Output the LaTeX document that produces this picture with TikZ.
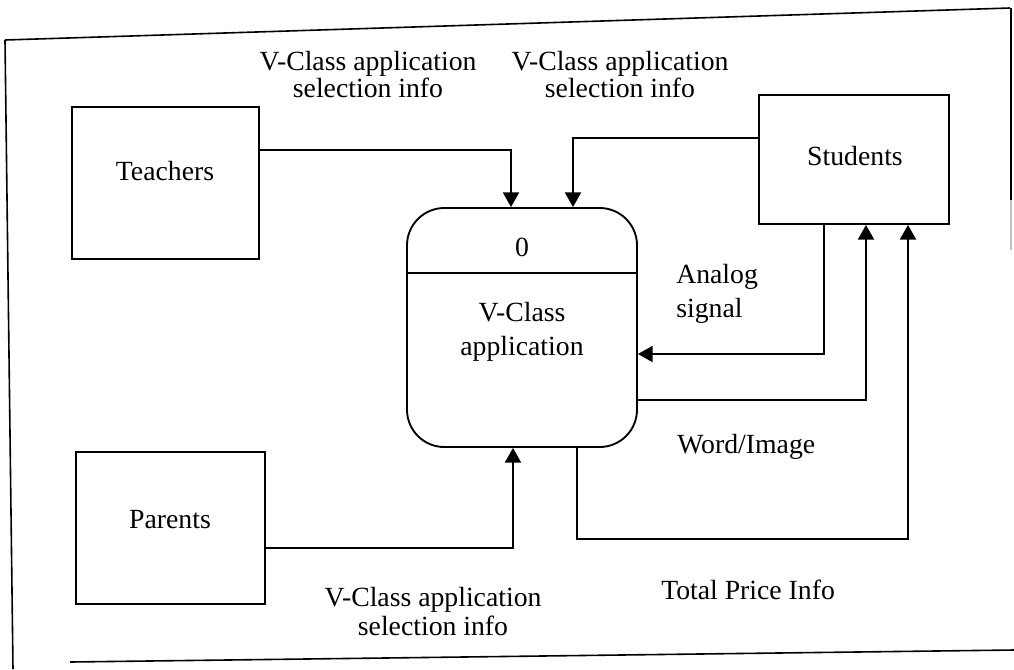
\documentclass[tikz,border=0pt]{standalone}
\usepackage{fontspec}
\setmainfont{Liberation Serif}
\usetikzlibrary{arrows.meta}
\begin{document}
\begin{tikzpicture}[x=0.75pt,y=-0.75pt,
  line/.style={line width=1.4pt, line join=miter},
  flow/.style={line, -{Triangle[width=12pt,length=11pt]}},
  entity/.style={draw, line width=1.4pt, rectangle, inner sep=0pt},
  txt/.style={font=\fontsize{20.8}{18}\selectfont, inner sep=0pt, align=center},
  btxt/.style={font=\fontsize{20.8}{21.5}\selectfont, inner sep=0pt, align=center},
  ptxt/.style={font=\fontsize{20.8}{25}\selectfont, inner sep=0pt, align=center}]
\useasboundingbox (0,0) rectangle (1014,669);

% outer frame
\draw[line width=1.2pt] (5,40) -- (1010,8);
\draw[line width=1.2pt] (5,40) -- (13,669);
\draw[line width=1.2pt] (70,662) -- (1014,650);
\draw[line width=1.2pt] (1011,8) -- (1011,200);
\draw[line width=1.2pt, black!25] (1011,200) -- (1011,250);

% external entities
\node[entity, minimum width=140.25pt, minimum height=114pt] (teachers) at (165.5,183) {};
\node[txt, anchor=base] (tlabel) at (165,180) {Teachers};
\node[entity, minimum width=142.5pt, minimum height=96.75pt] (students) at (854,159.5) {};
\node[txt, anchor=base] (slabel) at (855,165) {Students};
\node[entity, minimum width=141.75pt, minimum height=114pt] (parents) at (170.5,528) {};
\node[txt, anchor=base] (plabel) at (170,528) {Parents};

% process
\node[draw, line width=1.4pt, rounded corners=28pt, minimum width=172.5pt, minimum height=179.25pt, inner sep=0pt] (proc) at (522,327.5) {};
\draw[line] (proc.west |- 0,273) -- (proc.east |- 0,273);
\node[ptxt] (pnum) at (522,247) {0};
\node[ptxt, anchor=base] (pname) at (522,355) {V-Class\\application};

% anchor points for connectors
\coordinate (t1) at (511,150);
\coordinate (s1) at (573,138);
\coordinate (p1) at (513,548);
\coordinate (a1) at (824,354);
\coordinate (w1) at (866,400);
\coordinate (tp1) at (577,539);
\coordinate (tp2) at (908,539);

% data flows
\draw[flow] (teachers.east |- t1) -- (t1) -- (t1 |- proc.north);
\draw[flow] (students.west |- s1) -- (s1) -- (s1 |- proc.north);
\draw[flow] (parents.east |- p1) -- (p1) -- (p1 |- proc.south);
\draw[flow] (a1 |- students.south) -- (a1) -- (a1 -| proc.east);
\draw[flow] (w1 -| proc.east) -- (w1) -- (w1 |- students.south);
\draw[flow] (tp1 |- proc.south) -- (tp1) -- (tp2) -- (tp2 |- students.south);

% flow labels
\node[txt, anchor=base] (l1) at (368,97) {V-Class application\\selection info};
\node[txt, anchor=base] (l2) at (620,97) {V-Class application\\selection info};
\node[ptxt, anchor=base west, align=left] (l3) at (676,317) {Analog\\signal};
\node[txt, anchor=base west] (l4) at (677,453) {Word/Image};
\node[btxt, anchor=base] (l5) at (433,635) {V-Class application\\selection info};
\node[txt, anchor=base west] (l6) at (661,599) {Total Price Info};
\end{tikzpicture}
\end{document}
